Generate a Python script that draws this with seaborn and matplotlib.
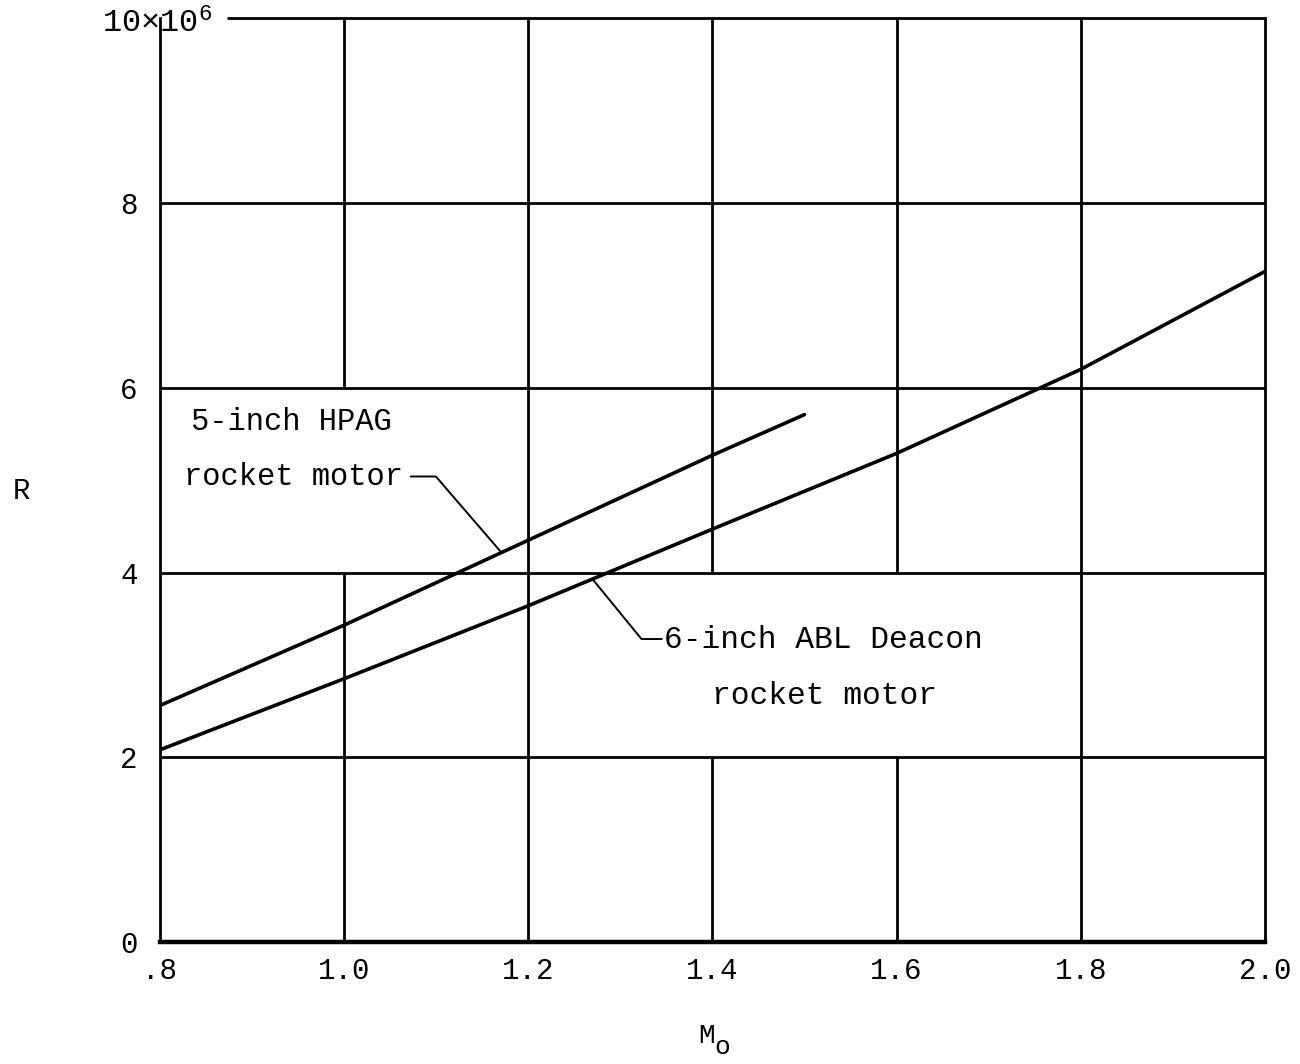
import matplotlib
matplotlib.use("Agg")
import matplotlib.pyplot as plt
import seaborn as sns
import pandas as pd

# ---- data (R in units of 10^6) ----
hpag_mach = [0.8, 1.0, 1.2, 1.4, 1.5]
hpag_r = [2.56, 3.43, 4.35, 5.27, 5.71]
deacon_mach = [0.8, 1.0, 1.2, 1.4, 1.6, 1.8, 2.0]
deacon_r = [2.08, 2.85, 3.64, 4.47, 5.29, 6.20, 7.26]

x_ticks = [0.8, 1.0, 1.2, 1.4, 1.6, 1.8, 2.0]
x_tick_labels = [".8", "1.0", "1.2", "1.4", "1.6", "1.8", "2.0"]
y_ticks = [0, 2, 4, 6, 8]
y_tick_labels = ["0", "2", "4", "6", "8"]

df = pd.concat([
    pd.DataFrame({"M0": hpag_mach, "R": hpag_r, "motor": "5-inch HPAG rocket motor"}),
    pd.DataFrame({"M0": deacon_mach, "R": deacon_r, "motor": "6-inch ABL Deacon rocket motor"}),
])

sns.set_theme(style="white")
plt.rcParams["font.family"] = ["Liberation Mono", "DejaVu Sans"]
plt.rcParams["mathtext.fontset"] = "custom"
plt.rcParams["mathtext.rm"] = "Liberation Mono"
plt.rcParams["mathtext.it"] = "Liberation Mono"

fig = plt.figure(figsize=(13, 10.64), dpi=100)
ax = fig.add_axes([0.123, 0.1147, 0.850, 0.868])

K = "black"
GW = 2.0

# grid (with gaps where labels sit, as in the original)
vsegs = {
    1.0: [(0, 4), (6, 10)],
    1.2: [(0, 10)],
    1.4: [(0, 2), (4, 10)],
    1.6: [(0, 2), (4, 10)],
    1.8: [(0, 10)],
}
for xv, segs in vsegs.items():
    for a, b in segs:
        ax.vlines(xv, a, b, color=K, lw=GW, zorder=1)
for yv in [2, 4, 6, 8]:
    ax.hlines(yv, 0.8, 2.0, color=K, lw=GW, zorder=1)
ax.hlines(10, 0.873, 2.0, color=K, lw=GW, zorder=1, clip_on=False)

sns.lineplot(data=df, x="M0", y="R", units="motor", estimator=None,
             color=K, lw=2.6, ax=ax, legend=False, zorder=3)

ax.set_xlim(0.8, 2.0)
ax.set_ylim(0, 10)
ax.set_xticks(x_ticks)
ax.set_xticklabels(x_tick_labels)
ax.set_yticks(y_ticks)
ax.set_yticklabels(y_tick_labels)
ax.tick_params(axis="both", length=0, labelsize=21, colors=K)
ax.tick_params(axis="x", pad=11)
ax.tick_params(axis="y", pad=16)
ax.set_xlabel("")
ax.set_ylabel("")

for side in ["left", "right"]:
    ax.spines[side].set_color(K)
    ax.spines[side].set_linewidth(GW)
ax.spines["bottom"].set_color(K)
ax.spines["bottom"].set_linewidth(3.2)
ax.spines["top"].set_visible(False)

# top label
ax.text(0.797, 9.94, r"$\mathregular{10{\times}10^6}$", ha="center", va="center",
        fontsize=23, color=K, zorder=5)

# axis titles
fig.text(0.0165, 0.539, "R", fontsize=21, ha="center", va="center", color=K)
fig.text(0.5435, 1 - 1036 / 1064, "M", fontsize=20, ha="center", va="center", color=K)
fig.text(0.5555, 1 - 1047 / 1064, "o", fontsize=19, ha="center", va="center", color=K)

# annotations
ax.text(0.834, 5.63, "5-inch HPAG", fontsize=22, ha="left", va="center", color=K)
ax.text(0.826, 5.03, "rocket motor", fontsize=22, ha="left", va="center", color=K)
ax.plot([1.0725, 1.0997, 1.1706], [5.04, 5.04, 4.22], color=K, lw=1.4, zorder=3)

ax.text(1.347, 3.27, "6-inch ABL Deacon", fontsize=22.5, ha="left", va="center", color=K)
ax.text(1.400, 2.66, "rocket motor", fontsize=22.5, ha="left", va="center", color=K)
ax.plot([1.2705, 1.323, 1.345], [3.92, 3.28, 3.28], color=K, lw=1.4, zorder=3)

fig.savefig("out.png", dpi=100, facecolor="white")
